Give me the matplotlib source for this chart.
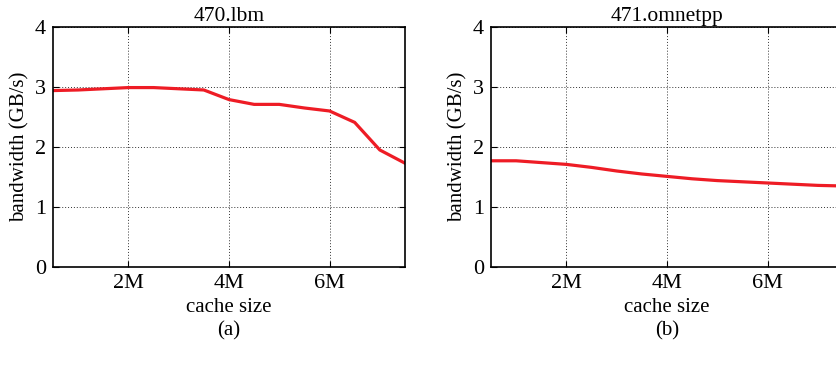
import numpy as np
import matplotlib
matplotlib.use("Agg")
import matplotlib.pyplot as plt

plt.rcParams['font.family'] = ['Liberation Serif', 'DejaVu Serif']
plt.rcParams['font.size'] = 15

cache_mb = [0.5, 1.0, 1.5, 2.0, 2.5, 3.0, 3.5, 4.0, 4.5, 5.0, 5.5, 6.0, 6.5, 7.0, 7.5]
lbm_bw = [2.94, 2.95, 2.97, 2.99, 2.99, 2.97, 2.95, 2.79, 2.71, 2.71, 2.65, 2.60, 2.41, 1.95, 1.73]
omnetpp_bw = [1.77, 1.77, 1.74, 1.71, 1.66, 1.60, 1.55, 1.51, 1.47, 1.44, 1.42, 1.40, 1.38, 1.36, 1.35]

titles = ['470.lbm', '471.omnetpp']
captions = ['(a)', '(b)']
xtick_vals = [2, 4, 6]
xtick_labels = ['2M', '4M', '6M']

fig = plt.figure(figsize=(8.36, 3.67), dpi=100)
positions = [[0.0634, 0.2725, 0.421, 0.654], [0.5873, 0.2725, 0.421, 0.654]]

for pos, title, cap, bw in zip(positions, titles, captions, [lbm_bw, omnetpp_bw]):
    ax = fig.add_axes(pos)
    ax.plot(cache_mb, bw, color='#ee1c25', lw=2.3)
    ax.set_xlim(0.5, 7.5)
    ax.set_ylim(0, 4)
    ax.set_xticks(xtick_vals)
    ax.set_xticklabels(xtick_labels)
    ax.set_yticks([0, 1, 2, 3, 4])
    ax.grid(True, color='#333333', linestyle=(0, (1, 2)), lw=0.7)
    ax.tick_params(direction='in', top=True, right=True, length=4, labelsize=16, pad=5)
    for s in ax.spines.values():
        s.set_linewidth(1.2)
    ax.set_title(title, fontsize=15.5, pad=4)
    ax.set_xlabel('cache size', fontsize=15, labelpad=4)
    ax.set_ylabel('bandwidth (GB/s)', fontsize=15, labelpad=4)
    ax.text(0.5, -0.225, cap, transform=ax.transAxes, ha='center', va='top', fontsize=15)

fig.savefig('out.png', dpi=100)
